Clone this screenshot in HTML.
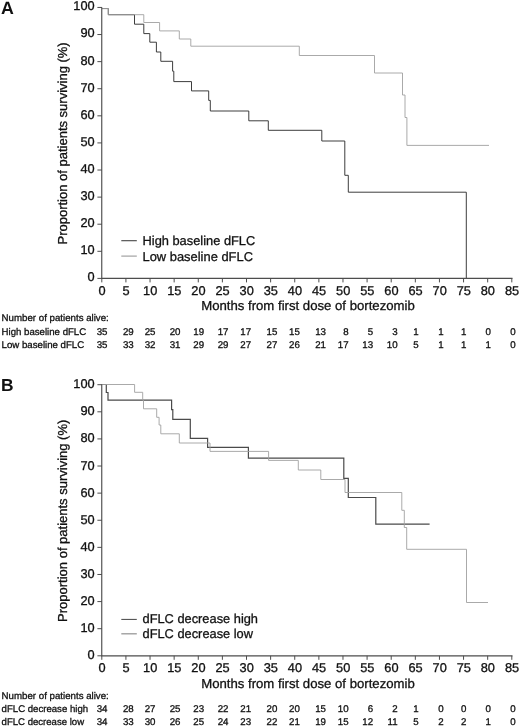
<!DOCTYPE html>
<html><head><meta charset="utf-8"><title>Figure</title>
<style>
html,body{margin:0;padding:0;background:#fff;}
svg{display:block;will-change:transform;}
text{font-family:"Liberation Sans",sans-serif;fill:#111111;text-rendering:geometricPrecision;stroke:#111;stroke-width:0.3px;}
.t{stroke-width:0.3px;}
.b{stroke:none;}
</style></head>
<body>
<svg width="520" height="727" viewBox="0 0 520 727">
<rect width="520" height="727" fill="#ffffff"/>
<path d="M102.00 8.55 L108.30 8.55 L108.30 14.70 L134.50 14.70 L134.50 24.20 L143.80 24.20 L143.80 33.60 L149.80 33.60 L149.80 42.20 L156.40 42.20 L156.40 52.00 L160.80 52.00 L160.80 61.30 L172.60 61.30 L172.60 71.20 L173.80 71.20 L173.80 81.60 L191.50 81.60 L191.50 90.90 L208.70 90.90 L208.70 100.40 L210.30 100.40 L210.30 111.00 L248.80 111.00 L248.80 120.80 L268.30 120.80 L268.30 130.30 L321.80 130.30 L321.80 141.00 L344.80 141.00 L344.80 175.30 L348.30 175.30 L348.30 192.20 L466.30 192.20 L466.30 278.40 L466.30 278.40" fill="none" stroke="#333333" stroke-width="0.95"/>
<path d="M102.00 8.55 L108.30 8.55 L108.30 14.70 L143.80 14.70 L143.80 22.50 L159.60 22.50 L159.60 30.90 L179.30 30.90 L179.30 39.00 L190.80 39.00 L190.80 46.20 L299.30 46.20 L299.30 55.50 L374.50 55.50 L374.50 73.00 L402.50 73.00 L402.50 95.00 L405.00 95.00 L405.00 117.50 L406.90 117.50 L406.90 145.40 L489.00 145.40" fill="none" stroke="#a0a0a0" stroke-width="0.90"/>
<path d="M101.75 7.15 V278.40 H512.50" fill="none" stroke="#4d4d4d" stroke-width="1.15"/>
<path d="M97.40 278.40 H102.00" stroke="#4d4d4d" stroke-width="1"/>
<text x="94.7" y="281.30" text-anchor="end" font-size="12.8">0</text>
<path d="M97.40 251.30 H102.00" stroke="#4d4d4d" stroke-width="1"/>
<text x="94.7" y="254.20" text-anchor="end" font-size="12.8">10</text>
<path d="M97.40 224.21 H102.00" stroke="#4d4d4d" stroke-width="1"/>
<text x="94.7" y="227.11" text-anchor="end" font-size="12.8">20</text>
<path d="M97.40 197.11 H102.00" stroke="#4d4d4d" stroke-width="1"/>
<text x="94.7" y="200.01" text-anchor="end" font-size="12.8">30</text>
<path d="M97.40 170.02 H102.00" stroke="#4d4d4d" stroke-width="1"/>
<text x="94.7" y="172.92" text-anchor="end" font-size="12.8">40</text>
<path d="M97.40 142.92 H102.00" stroke="#4d4d4d" stroke-width="1"/>
<text x="94.7" y="145.82" text-anchor="end" font-size="12.8">50</text>
<path d="M97.40 115.83 H102.00" stroke="#4d4d4d" stroke-width="1"/>
<text x="94.7" y="118.73" text-anchor="end" font-size="12.8">60</text>
<path d="M97.40 88.73 H102.00" stroke="#4d4d4d" stroke-width="1"/>
<text x="94.7" y="91.63" text-anchor="end" font-size="12.8">70</text>
<path d="M97.40 61.64 H102.00" stroke="#4d4d4d" stroke-width="1"/>
<text x="94.7" y="64.54" text-anchor="end" font-size="12.8">80</text>
<path d="M97.40 34.54 H102.00" stroke="#4d4d4d" stroke-width="1"/>
<text x="94.7" y="37.44" text-anchor="end" font-size="12.8">90</text>
<path d="M97.40 7.45 H102.00" stroke="#4d4d4d" stroke-width="1"/>
<text x="94.7" y="10.35" text-anchor="end" font-size="12.8">100</text>
<path d="M101.80 278.40 V282.40" stroke="#4d4d4d" stroke-width="1"/>
<text x="102.00" y="294.50" text-anchor="middle" font-size="12.8">0</text>
<path d="M125.92 278.40 V282.40" stroke="#4d4d4d" stroke-width="1"/>
<text x="126.12" y="294.50" text-anchor="middle" font-size="12.8">5</text>
<path d="M150.04 278.40 V282.40" stroke="#4d4d4d" stroke-width="1"/>
<text x="150.24" y="294.50" text-anchor="middle" font-size="12.8">10</text>
<path d="M174.15 278.40 V282.40" stroke="#4d4d4d" stroke-width="1"/>
<text x="174.35" y="294.50" text-anchor="middle" font-size="12.8">15</text>
<path d="M198.27 278.40 V282.40" stroke="#4d4d4d" stroke-width="1"/>
<text x="198.47" y="294.50" text-anchor="middle" font-size="12.8">20</text>
<path d="M222.39 278.40 V282.40" stroke="#4d4d4d" stroke-width="1"/>
<text x="222.59" y="294.50" text-anchor="middle" font-size="12.8">25</text>
<path d="M246.51 278.40 V282.40" stroke="#4d4d4d" stroke-width="1"/>
<text x="246.71" y="294.50" text-anchor="middle" font-size="12.8">30</text>
<path d="M270.62 278.40 V282.40" stroke="#4d4d4d" stroke-width="1"/>
<text x="270.82" y="294.50" text-anchor="middle" font-size="12.8">35</text>
<path d="M294.74 278.40 V282.40" stroke="#4d4d4d" stroke-width="1"/>
<text x="294.94" y="294.50" text-anchor="middle" font-size="12.8">40</text>
<path d="M318.86 278.40 V282.40" stroke="#4d4d4d" stroke-width="1"/>
<text x="319.06" y="294.50" text-anchor="middle" font-size="12.8">45</text>
<path d="M342.98 278.40 V282.40" stroke="#4d4d4d" stroke-width="1"/>
<text x="343.18" y="294.50" text-anchor="middle" font-size="12.8">50</text>
<path d="M367.09 278.40 V282.40" stroke="#4d4d4d" stroke-width="1"/>
<text x="367.29" y="294.50" text-anchor="middle" font-size="12.8">55</text>
<path d="M391.21 278.40 V282.40" stroke="#4d4d4d" stroke-width="1"/>
<text x="391.41" y="294.50" text-anchor="middle" font-size="12.8">60</text>
<path d="M415.33 278.40 V282.40" stroke="#4d4d4d" stroke-width="1"/>
<text x="415.53" y="294.50" text-anchor="middle" font-size="12.8">65</text>
<path d="M439.45 278.40 V282.40" stroke="#4d4d4d" stroke-width="1"/>
<text x="439.65" y="294.50" text-anchor="middle" font-size="12.8">70</text>
<path d="M463.56 278.40 V282.40" stroke="#4d4d4d" stroke-width="1"/>
<text x="463.76" y="294.50" text-anchor="middle" font-size="12.8">75</text>
<path d="M487.68 278.40 V282.40" stroke="#4d4d4d" stroke-width="1"/>
<text x="487.88" y="294.50" text-anchor="middle" font-size="12.8">80</text>
<path d="M511.80 278.40 V282.40" stroke="#4d4d4d" stroke-width="1"/>
<text x="512.00" y="294.50" text-anchor="middle" font-size="12.8">85</text>
<text x="201.2" y="310.40" font-size="13" textLength="213.6" lengthAdjust="spacingAndGlyphs">Months from first dose of bortezomib</text>
<text transform="translate(67.3 244.50) rotate(-90)" font-size="13" textLength="202.2" lengthAdjust="spacingAndGlyphs">Proportion of patients surviving (%)</text>
<text class="b" x="1.00" y="14.00" font-size="17.8" font-weight="bold">A</text>
<path d="M121.3 240.70 H136.8" stroke="#444" stroke-width="1.10"/>
<path d="M121.3 256.10 H136.8" stroke="#999" stroke-width="1.10"/>
<text x="142.5" y="244.70" font-size="12.8" textLength="112.8" lengthAdjust="spacingAndGlyphs">High baseline dFLC</text>
<text x="142.5" y="260.60" font-size="12.8" textLength="110.5" lengthAdjust="spacingAndGlyphs">Low baseline dFLC</text>
<text class="t" x="1.6" y="321.20" font-size="9.7" textLength="107.2" lengthAdjust="spacingAndGlyphs">Number of patients alive:</text>
<text class="t" x="1.6" y="334.50" font-size="9.7" textLength="84.6" lengthAdjust="spacingAndGlyphs">High baseline dFLC</text>
<text class="t" x="107.50" y="334.50" text-anchor="end" font-size="9.7">35</text>
<text class="t" x="133.70" y="334.50" text-anchor="end" font-size="9.7">29</text>
<text class="t" x="155.50" y="334.50" text-anchor="end" font-size="9.7">25</text>
<text class="t" x="180.50" y="334.50" text-anchor="end" font-size="9.7">20</text>
<text class="t" x="204.10" y="334.50" text-anchor="end" font-size="9.7">19</text>
<text class="t" x="228.50" y="334.50" text-anchor="end" font-size="9.7">17</text>
<text class="t" x="251.10" y="334.50" text-anchor="end" font-size="9.7">17</text>
<text class="t" x="277.30" y="334.50" text-anchor="end" font-size="9.7">15</text>
<text class="t" x="299.80" y="334.50" text-anchor="end" font-size="9.7">15</text>
<text class="t" x="326.00" y="334.50" text-anchor="end" font-size="9.7">13</text>
<text class="t" x="348.60" y="334.50" text-anchor="end" font-size="9.7">8</text>
<text class="t" x="373.10" y="334.50" text-anchor="end" font-size="9.7">5</text>
<text class="t" x="397.60" y="334.50" text-anchor="end" font-size="9.7">3</text>
<text class="t" x="418.60" y="334.50" text-anchor="end" font-size="9.7">1</text>
<text class="t" x="443.60" y="334.50" text-anchor="end" font-size="9.7">1</text>
<text class="t" x="466.40" y="334.50" text-anchor="end" font-size="9.7">1</text>
<text class="t" x="490.80" y="334.50" text-anchor="end" font-size="9.7">0</text>
<text class="t" x="515.70" y="334.50" text-anchor="end" font-size="9.7">0</text>
<text class="t" x="1.6" y="347.70" font-size="9.7" textLength="82.6" lengthAdjust="spacingAndGlyphs">Low baseline dFLC</text>
<text class="t" x="107.50" y="347.70" text-anchor="end" font-size="9.7">35</text>
<text class="t" x="133.70" y="347.70" text-anchor="end" font-size="9.7">33</text>
<text class="t" x="155.50" y="347.70" text-anchor="end" font-size="9.7">32</text>
<text class="t" x="180.50" y="347.70" text-anchor="end" font-size="9.7">31</text>
<text class="t" x="204.10" y="347.70" text-anchor="end" font-size="9.7">29</text>
<text class="t" x="228.50" y="347.70" text-anchor="end" font-size="9.7">29</text>
<text class="t" x="251.10" y="347.70" text-anchor="end" font-size="9.7">27</text>
<text class="t" x="277.30" y="347.70" text-anchor="end" font-size="9.7">27</text>
<text class="t" x="299.80" y="347.70" text-anchor="end" font-size="9.7">26</text>
<text class="t" x="326.00" y="347.70" text-anchor="end" font-size="9.7">21</text>
<text class="t" x="348.60" y="347.70" text-anchor="end" font-size="9.7">17</text>
<text class="t" x="373.10" y="347.70" text-anchor="end" font-size="9.7">13</text>
<text class="t" x="397.60" y="347.70" text-anchor="end" font-size="9.7">10</text>
<text class="t" x="418.60" y="347.70" text-anchor="end" font-size="9.7">5</text>
<text class="t" x="443.60" y="347.70" text-anchor="end" font-size="9.7">1</text>
<text class="t" x="466.40" y="347.70" text-anchor="end" font-size="9.7">1</text>
<text class="t" x="490.80" y="347.70" text-anchor="end" font-size="9.7">1</text>
<text class="t" x="515.70" y="347.70" text-anchor="end" font-size="9.7">0</text>
<path d="M102.00 384.50 L106.30 384.50 L106.30 392.50 L108.00 392.50 L108.00 400.20 L171.60 400.20 L171.60 409.60 L172.80 409.60 L172.80 419.30 L190.30 419.30 L190.30 438.30 L207.60 438.30 L207.60 447.30 L248.40 447.30 L248.40 458.20 L343.80 458.20 L343.80 478.30 L348.30 478.30 L348.30 497.50 L375.80 497.50 L375.80 524.20 L429.60 524.20" fill="none" stroke="#4a4a4a" stroke-width="1.20"/>
<path d="M102.00 384.50 L134.60 384.50 L134.60 392.30 L142.70 392.30 L142.70 400.20 L143.50 400.20 L143.50 408.80 L156.70 408.80 L156.70 417.30 L159.10 417.30 L159.10 425.00 L160.80 425.00 L160.80 433.80 L179.30 433.80 L179.30 443.00 L210.00 443.00 L210.00 451.40 L268.60 451.40 L268.60 460.40 L298.30 460.40 L298.30 470.00 L320.80 470.00 L320.80 479.50 L345.00 479.50 L345.00 492.50 L401.80 492.50 L401.80 510.30 L404.30 510.30 L404.30 527.50 L406.70 527.50 L406.70 549.30 L466.50 549.30 L466.50 602.50 L488.00 602.50" fill="none" stroke="#a0a0a0" stroke-width="0.90"/>
<path d="M101.75 384.40 V655.80 H512.50" fill="none" stroke="#4d4d4d" stroke-width="1.15"/>
<path d="M97.40 655.80 H102.00" stroke="#4d4d4d" stroke-width="1"/>
<text x="94.7" y="659.30" text-anchor="end" font-size="12.8">0</text>
<path d="M97.40 628.69 H102.00" stroke="#4d4d4d" stroke-width="1"/>
<text x="94.7" y="632.19" text-anchor="end" font-size="12.8">10</text>
<path d="M97.40 601.58 H102.00" stroke="#4d4d4d" stroke-width="1"/>
<text x="94.7" y="605.08" text-anchor="end" font-size="12.8">20</text>
<path d="M97.40 574.47 H102.00" stroke="#4d4d4d" stroke-width="1"/>
<text x="94.7" y="577.97" text-anchor="end" font-size="12.8">30</text>
<path d="M97.40 547.36 H102.00" stroke="#4d4d4d" stroke-width="1"/>
<text x="94.7" y="550.86" text-anchor="end" font-size="12.8">40</text>
<path d="M97.40 520.25 H102.00" stroke="#4d4d4d" stroke-width="1"/>
<text x="94.7" y="523.75" text-anchor="end" font-size="12.8">50</text>
<path d="M97.40 493.14 H102.00" stroke="#4d4d4d" stroke-width="1"/>
<text x="94.7" y="496.64" text-anchor="end" font-size="12.8">60</text>
<path d="M97.40 466.03 H102.00" stroke="#4d4d4d" stroke-width="1"/>
<text x="94.7" y="469.53" text-anchor="end" font-size="12.8">70</text>
<path d="M97.40 438.92 H102.00" stroke="#4d4d4d" stroke-width="1"/>
<text x="94.7" y="442.42" text-anchor="end" font-size="12.8">80</text>
<path d="M97.40 411.81 H102.00" stroke="#4d4d4d" stroke-width="1"/>
<text x="94.7" y="415.31" text-anchor="end" font-size="12.8">90</text>
<path d="M97.40 384.70 H102.00" stroke="#4d4d4d" stroke-width="1"/>
<text x="94.7" y="388.20" text-anchor="end" font-size="12.8">100</text>
<path d="M101.80 655.80 V659.80" stroke="#4d4d4d" stroke-width="1"/>
<text x="102.00" y="672.30" text-anchor="middle" font-size="12.8">0</text>
<path d="M125.92 655.80 V659.80" stroke="#4d4d4d" stroke-width="1"/>
<text x="126.12" y="672.30" text-anchor="middle" font-size="12.8">5</text>
<path d="M150.04 655.80 V659.80" stroke="#4d4d4d" stroke-width="1"/>
<text x="150.24" y="672.30" text-anchor="middle" font-size="12.8">10</text>
<path d="M174.15 655.80 V659.80" stroke="#4d4d4d" stroke-width="1"/>
<text x="174.35" y="672.30" text-anchor="middle" font-size="12.8">15</text>
<path d="M198.27 655.80 V659.80" stroke="#4d4d4d" stroke-width="1"/>
<text x="198.47" y="672.30" text-anchor="middle" font-size="12.8">20</text>
<path d="M222.39 655.80 V659.80" stroke="#4d4d4d" stroke-width="1"/>
<text x="222.59" y="672.30" text-anchor="middle" font-size="12.8">25</text>
<path d="M246.51 655.80 V659.80" stroke="#4d4d4d" stroke-width="1"/>
<text x="246.71" y="672.30" text-anchor="middle" font-size="12.8">30</text>
<path d="M270.62 655.80 V659.80" stroke="#4d4d4d" stroke-width="1"/>
<text x="270.82" y="672.30" text-anchor="middle" font-size="12.8">35</text>
<path d="M294.74 655.80 V659.80" stroke="#4d4d4d" stroke-width="1"/>
<text x="294.94" y="672.30" text-anchor="middle" font-size="12.8">40</text>
<path d="M318.86 655.80 V659.80" stroke="#4d4d4d" stroke-width="1"/>
<text x="319.06" y="672.30" text-anchor="middle" font-size="12.8">45</text>
<path d="M342.98 655.80 V659.80" stroke="#4d4d4d" stroke-width="1"/>
<text x="343.18" y="672.30" text-anchor="middle" font-size="12.8">50</text>
<path d="M367.09 655.80 V659.80" stroke="#4d4d4d" stroke-width="1"/>
<text x="367.29" y="672.30" text-anchor="middle" font-size="12.8">55</text>
<path d="M391.21 655.80 V659.80" stroke="#4d4d4d" stroke-width="1"/>
<text x="391.41" y="672.30" text-anchor="middle" font-size="12.8">60</text>
<path d="M415.33 655.80 V659.80" stroke="#4d4d4d" stroke-width="1"/>
<text x="415.53" y="672.30" text-anchor="middle" font-size="12.8">65</text>
<path d="M439.45 655.80 V659.80" stroke="#4d4d4d" stroke-width="1"/>
<text x="439.65" y="672.30" text-anchor="middle" font-size="12.8">70</text>
<path d="M463.56 655.80 V659.80" stroke="#4d4d4d" stroke-width="1"/>
<text x="463.76" y="672.30" text-anchor="middle" font-size="12.8">75</text>
<path d="M487.68 655.80 V659.80" stroke="#4d4d4d" stroke-width="1"/>
<text x="487.88" y="672.30" text-anchor="middle" font-size="12.8">80</text>
<path d="M511.80 655.80 V659.80" stroke="#4d4d4d" stroke-width="1"/>
<text x="512.00" y="672.30" text-anchor="middle" font-size="12.8">85</text>
<text x="201.2" y="687.80" font-size="13" textLength="213.6" lengthAdjust="spacingAndGlyphs">Months from first dose of bortezomib</text>
<text transform="translate(67.3 621.90) rotate(-90)" font-size="13" textLength="202.2" lengthAdjust="spacingAndGlyphs">Proportion of patients surviving (%)</text>
<text class="b" x="1.00" y="391.40" font-size="17.4" font-weight="bold">B</text>
<path d="M121.3 619.40 H136.8" stroke="#444" stroke-width="1.00"/>
<path d="M121.3 633.80 H136.8" stroke="#999" stroke-width="1.30"/>
<text x="142.5" y="623.30" font-size="12.8" textLength="115.5" lengthAdjust="spacingAndGlyphs">dFLC decrease high</text>
<text x="142.5" y="638.20" font-size="12.8" textLength="110.5" lengthAdjust="spacingAndGlyphs">dFLC decrease low</text>
<text class="t" x="1.6" y="698.90" font-size="9.7" textLength="107.2" lengthAdjust="spacingAndGlyphs">Number of patients alive:</text>
<text class="t" x="1.6" y="712.30" font-size="9.7" textLength="86.5" lengthAdjust="spacingAndGlyphs">dFLC decrease high</text>
<text class="t" x="107.50" y="712.30" text-anchor="end" font-size="9.7">34</text>
<text class="t" x="133.70" y="712.30" text-anchor="end" font-size="9.7">28</text>
<text class="t" x="155.50" y="712.30" text-anchor="end" font-size="9.7">27</text>
<text class="t" x="180.50" y="712.30" text-anchor="end" font-size="9.7">25</text>
<text class="t" x="204.10" y="712.30" text-anchor="end" font-size="9.7">23</text>
<text class="t" x="228.50" y="712.30" text-anchor="end" font-size="9.7">22</text>
<text class="t" x="251.10" y="712.30" text-anchor="end" font-size="9.7">21</text>
<text class="t" x="277.30" y="712.30" text-anchor="end" font-size="9.7">20</text>
<text class="t" x="299.80" y="712.30" text-anchor="end" font-size="9.7">20</text>
<text class="t" x="326.00" y="712.30" text-anchor="end" font-size="9.7">15</text>
<text class="t" x="348.60" y="712.30" text-anchor="end" font-size="9.7">10</text>
<text class="t" x="373.10" y="712.30" text-anchor="end" font-size="9.7">6</text>
<text class="t" x="397.60" y="712.30" text-anchor="end" font-size="9.7">2</text>
<text class="t" x="418.60" y="712.30" text-anchor="end" font-size="9.7">1</text>
<text class="t" x="443.60" y="712.30" text-anchor="end" font-size="9.7">0</text>
<text class="t" x="466.40" y="712.30" text-anchor="end" font-size="9.7">0</text>
<text class="t" x="490.80" y="712.30" text-anchor="end" font-size="9.7">0</text>
<text class="t" x="515.70" y="712.30" text-anchor="end" font-size="9.7">0</text>
<text class="t" x="1.6" y="725.30" font-size="9.7" textLength="82.5" lengthAdjust="spacingAndGlyphs">dFLC decrease low</text>
<text class="t" x="107.50" y="725.30" text-anchor="end" font-size="9.7">34</text>
<text class="t" x="133.70" y="725.30" text-anchor="end" font-size="9.7">33</text>
<text class="t" x="155.50" y="725.30" text-anchor="end" font-size="9.7">30</text>
<text class="t" x="180.50" y="725.30" text-anchor="end" font-size="9.7">26</text>
<text class="t" x="204.10" y="725.30" text-anchor="end" font-size="9.7">25</text>
<text class="t" x="228.50" y="725.30" text-anchor="end" font-size="9.7">24</text>
<text class="t" x="251.10" y="725.30" text-anchor="end" font-size="9.7">23</text>
<text class="t" x="277.30" y="725.30" text-anchor="end" font-size="9.7">22</text>
<text class="t" x="299.80" y="725.30" text-anchor="end" font-size="9.7">21</text>
<text class="t" x="326.00" y="725.30" text-anchor="end" font-size="9.7">19</text>
<text class="t" x="348.60" y="725.30" text-anchor="end" font-size="9.7">15</text>
<text class="t" x="373.10" y="725.30" text-anchor="end" font-size="9.7">12</text>
<text class="t" x="397.60" y="725.30" text-anchor="end" font-size="9.7">11</text>
<text class="t" x="418.60" y="725.30" text-anchor="end" font-size="9.7">5</text>
<text class="t" x="443.60" y="725.30" text-anchor="end" font-size="9.7">2</text>
<text class="t" x="466.40" y="725.30" text-anchor="end" font-size="9.7">2</text>
<text class="t" x="490.80" y="725.30" text-anchor="end" font-size="9.7">1</text>
<text class="t" x="515.70" y="725.30" text-anchor="end" font-size="9.7">0</text>
</svg>
</body></html>
